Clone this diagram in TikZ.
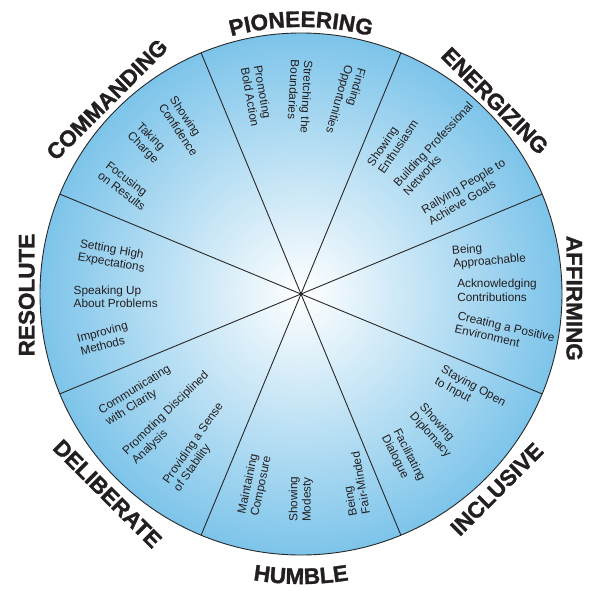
\documentclass[tikz,border=0pt]{standalone}
\usepackage{fontspec}
\setmainfont{Liberation Sans}
\newfontfamily\heavyfamily{Liberation Sans}[BoldFeatures={FakeBold=1.3}]
\usetikzlibrary{decorations.text}
\definecolor{edgeblue}{RGB}{125,196,234}
\definecolor{txt}{RGB}{35,31,32}
\definecolor{rulec}{RGB}{40,40,40}
\newcommand\outerfont{\heavyfamily\bfseries\fontsize{22.5}{22.5}\selectfont}
\begin{document}
\begin{tikzpicture}[x=1pt,y=1pt,
  inneritem/.style={font=\fontsize{11.8}{13.3}\selectfont, align=left, text=txt, inner sep=0pt},
  outerlabel/.style={font=\outerfont, text=txt, inner sep=0pt},
  divider/.style={draw=rulec, line width=0.9pt},
  curvedlabel/.style={decorate, decoration={text along path, text={|\outerfont|#1}, text align=center, text color=txt}}]
\useasboundingbox (-301,-296) rectangle (295,294);
\coordinate (c) at (0,0);
\shade[inner color=white, outer color=edgeblue] (c) circle (261);
\foreach \a [count=\i] in {22.5,67.5,...,337.5} {
  \coordinate (e\i) at (\a:261);
  \draw[divider] (c) -- (e\i);
}
\draw[divider] (c) circle (261);

% PIONEERING
\node[inneritem, rotate=-80]  (p1) at (-44.3,198) {Promoting\\Bold Action};
\node[inneritem, rotate=-93]  (p2) at (-1,197.3) {Stretching the\\Boundaries};
\node[inneritem, rotate=-106] (p3) at (44,193.3) {Finding\\Opportunities};
% COMMANDING
\node[inneritem, rotate=-56] (c1) at (-117,168) {Showing\\Confidence};
\node[inneritem, rotate=-45] (c2) at (-153.7,150.7) {Taking\\Charge};
\node[inneritem, rotate=-37] (c3) at (-175,108) {Focusing\\on Results};
% ENERGIZING
\node[inneritem, rotate=56] (n1) at (91.3,150.7) {Showing\\Enthusiasm};
\node[inneritem, rotate=47] (n2) at (137,145.5) {Building Professional\\Networks};
\node[inneritem, rotate=31] (n3) at (165.7,102.3) {Rallying People to\\Achieve Goals};
% AFFIRMING
\node[inneritem, rotate=5]   (a1) at (188,39) {Being\\Approachable};
\node[inneritem]             (a2) at (196,3.7) {Acknowledging\\Contributions};
\node[inneritem, rotate=-13] (a3) at (203.7,-39) {Creating a Positive\\Environment};
% INCLUSIVE
\node[inneritem, rotate=-29] (i1) at (169,-98.3) {Staying Open\\to Input};
\node[inneritem, rotate=-48] (i2) at (134,-136.7) {Showing\\Diplomacy};
\node[inneritem, rotate=-63] (i3) at (102,-164.3) {Facilitating\\Dialogue};
% HUMBLE
\node[inneritem, rotate=100] (h1) at (53,-190) {Being\\Fair-Minded};
\node[inneritem, rotate=90]  (h2) at (0,-205.2) {Showing\\Modesty};
\node[inneritem, rotate=78]  (h3) at (-46,-191) {Maintaining\\Composure};
% DELIBERATE
\node[inneritem, rotate=55] (d1) at (-102,-153.3) {Providing a Sense\\of Stability};
\node[inneritem, rotate=44] (d2) at (-130.3,-124.3) {Promoting Disciplined\\Analysis};
\node[inneritem, rotate=32] (d3) at (-162.7,-101.7) {Communicating\\with Clarity};
% RESOLUTE
\node[inneritem, rotate=-10] (r1) at (-188.7,37.3) {Setting High\\Expectations};
\node[inneritem]             (r2) at (-185.3,-2.7) {Speaking Up\\About Problems};
\node[inneritem, rotate=15]  (r3) at (-197,-44.3) {Improving\\Methods};

% outer labels
\path[curvedlabel=PIONEERING] (150:267) arc[start angle=150, end angle=30, radius=267];
\path[curvedlabel=HUMBLE] (210:290) arc[start angle=210, end angle=330, radius=290];
\node[outerlabel, rotate=45]  (lc) at (-194,194.5) {COMMANDING};
\node[outerlabel, rotate=-45] (le) at (194,193.2) {ENERGIZING};
\node[outerlabel, rotate=-90] (la) at (273.3,-4.3) {AFFIRMING};
\node[outerlabel, rotate=45]  (li) at (195.7,-195.2) {INCLUSIVE};
\node[outerlabel, rotate=-45] (ld) at (-193.5,-199.7) {DELIBERATE};
\node[outerlabel, rotate=90]  (lr) at (-274.3,-1) {RESOLUTE};
\end{tikzpicture}
\end{document}
